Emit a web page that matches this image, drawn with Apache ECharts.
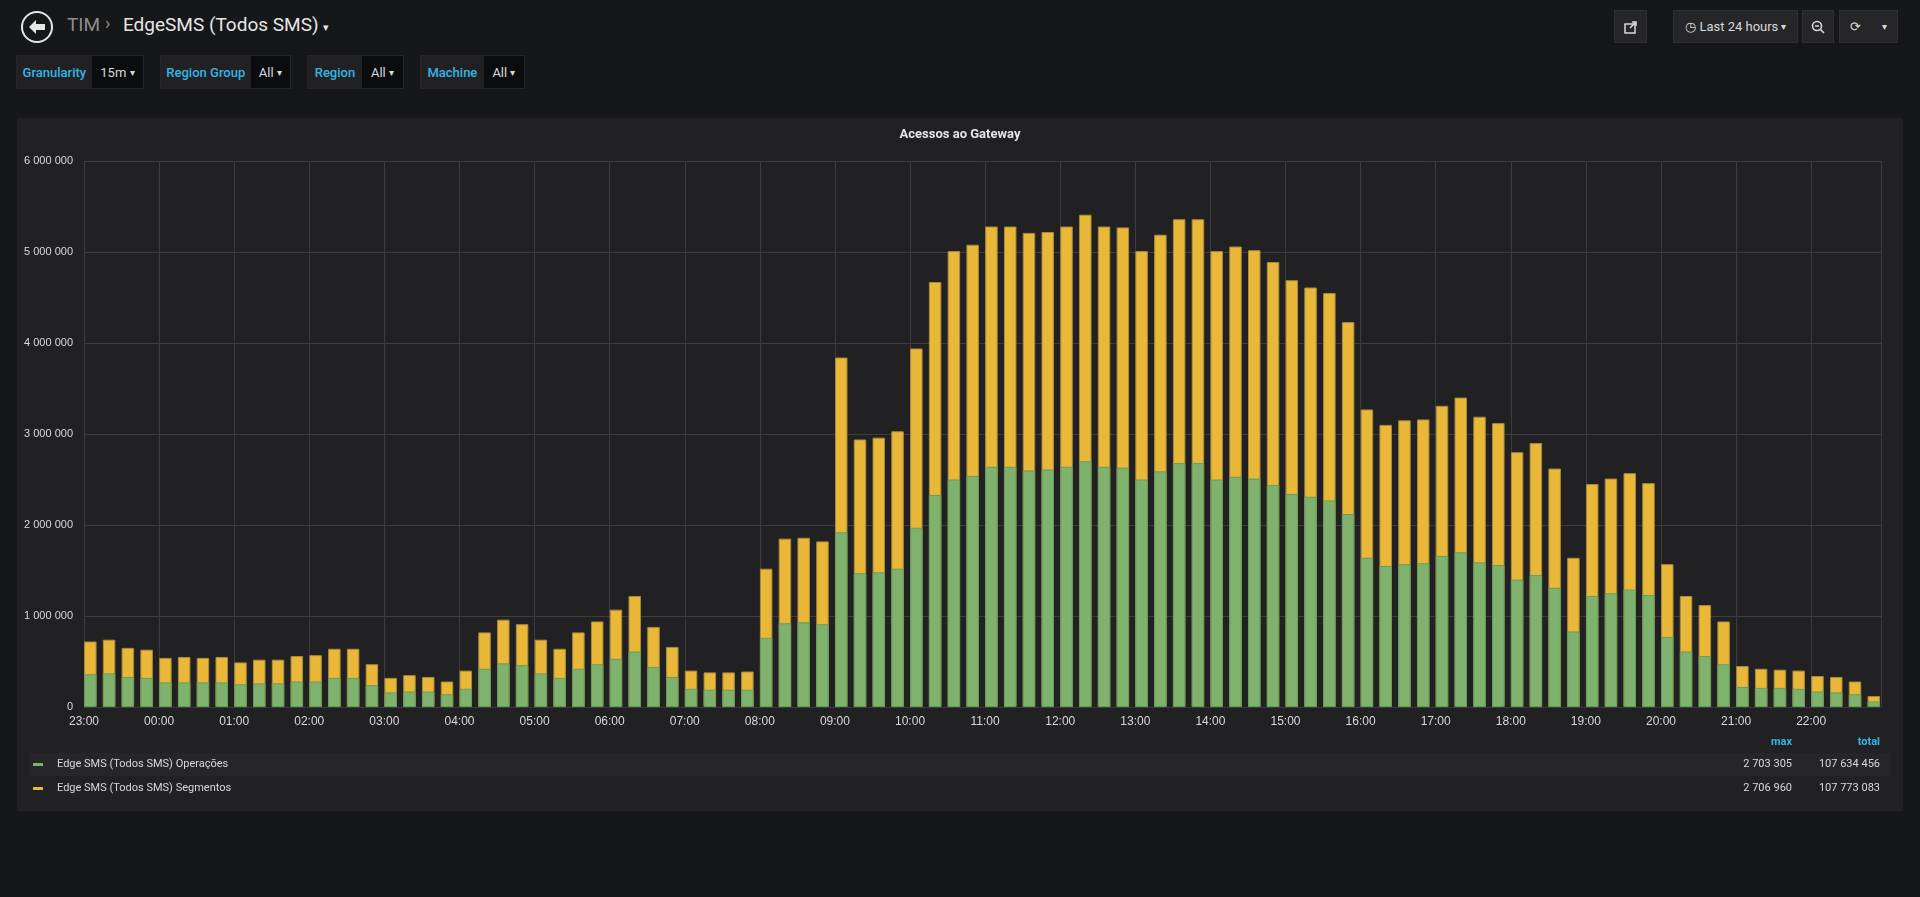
<!DOCTYPE html>
<html><head><meta charset="utf-8">
<script src="https://cdn.jsdelivr.net/npm/echarts@6/dist/echarts.min.js"></script>
<style>
html,body{margin:0;padding:0;width:1920px;height:897px;background:#161719;font-family:Roboto,"Noto Sans",sans-serif;overflow:hidden;position:relative}
.abs{position:absolute}
.btn{position:absolute;top:10px;height:33px;background:#262628;border:1px solid #2f2f32;box-sizing:border-box;color:#d8d9da;font-size:13px;display:flex;align-items:center;justify-content:center}
.var{position:absolute;top:55px;height:34px;display:flex;font-size:13px;border:1px solid #262628;box-sizing:border-box}
.var .l{background:#212124;color:#33b5e5;font-weight:500;display:flex;align-items:center;justify-content:center}
.var .v{background:#0b0c0e;color:#d8d9da;display:flex;align-items:center;justify-content:center}
#panel{position:absolute;left:17px;top:118px;width:1886px;height:693px;background:#212124}
</style></head><body>
<svg class="abs" style="left:20px;top:10px" width="34" height="34" viewBox="0 0 34 34"><circle cx="17" cy="17" r="15" fill="none" stroke="#e6e6e6" stroke-width="2"/><path d="M9 17 L16 10 L16 14 L25 14 L25 20 L16 20 L16 24 Z" fill="#e6e6e6"/></svg>
<div class="abs" style="left:67px;top:13px;font-size:19px;color:#8e8e8e">TIM</div>
<div class="abs" style="left:105px;top:12px;font-size:18px;color:#8e8e8e">›</div>
<div class="abs" style="left:123px;top:13px;font-size:19px;color:#e6e6e6">EdgeSMS (Todos SMS) <span style="font-size:11px">▾</span></div>

<div class="var" style="left:16px;width:128px"><div class="l" style="width:76px">Granularity</div><div class="v" style="width:52px">15m&nbsp;<span style="font-size:10px">▾</span></div></div>
<div class="var" style="left:160px;width:131px"><div class="l" style="width:91px">Region Group</div><div class="v" style="width:40px">All&nbsp;<span style="font-size:10px">▾</span></div></div>
<div class="var" style="left:307px;width:97px"><div class="l" style="width:55px">Region</div><div class="v" style="width:42px">All&nbsp;<span style="font-size:10px">▾</span></div></div>
<div class="var" style="left:420px;width:105px"><div class="l" style="width:64px">Machine</div><div class="v" style="width:41px">All&nbsp;<span style="font-size:10px">▾</span></div></div>

<div class="btn" style="left:1614px;width:33px"><svg width="14" height="14" viewBox="0 0 14 14"><rect x="1" y="4" width="10" height="9" fill="none" stroke="#d8d9da" stroke-width="1.5"/><path d="M6 8 L12 2 M8 2 L12 2 L12 6" stroke="#d8d9da" stroke-width="1.5" fill="none"/></svg></div>
<div class="btn" style="left:1673px;width:125px">◷ Last 24 hours <span style="font-size:10px">&nbsp;▾</span></div>
<div class="btn" style="left:1802px;width:32px"><svg width="14" height="14" viewBox="0 0 14 14"><circle cx="6" cy="6" r="4.5" fill="none" stroke="#d8d9da" stroke-width="1.6"/><path d="M9.5 9.5 L13 13 M4 6 L8 6" stroke="#d8d9da" stroke-width="1.6"/></svg></div>
<div class="btn" style="left:1839px;width:59px;justify-content:space-around"><span>⟳</span><span style="font-size:10px">▾</span></div>

<div id="panel"></div>
<script>
var hourLabels = ['23:00','00:00','01:00','02:00','03:00','04:00','05:00','06:00','07:00','08:00','09:00','10:00','11:00','12:00','13:00','14:00','15:00','16:00','17:00','18:00','19:00','20:00','21:00','22:00'];
// values in millions, 4 per hour starting 23:00
var operacoes = [
.36,.37,.33,.32, .27,.27,.27,.27, .25,.26,.26,.28, .28,.32,.32,.24,
.16,.17,.17,.14, .20,.42,.48,.46, .37,.32,.42,.47, .53,.61,.44,.33,
.20,.19,.19,.19, .76,.92,.93,.91, 1.92,1.47,1.48,1.52, 1.97,2.33,2.50,2.54,
2.64,2.64,2.60,2.61, 2.64,2.70,2.64,2.63, 2.50,2.59,2.68,2.68, 2.50,2.53,2.51,2.44,
2.34,2.31,2.27,2.12, 1.64,1.55,1.57,1.58, 1.66,1.70,1.59,1.56, 1.40,1.45,1.31,.83,
1.22,1.25,1.29,1.23, .77,.61,.56,.47, .22,.21,.21,.20, .17,.16,.14,.06];
// stacked totals (Operações + Segmentos)
var totais = [
.72,.74,.65,.63, .54,.55,.54,.55, .49,.52,.52,.56, .57,.64,.64,.47,
.32,.35,.33,.28, .40,.82,.96,.91, .74,.64,.82,.94, 1.07,1.22,.88,.66,
.40,.38,.38,.39, 1.52,1.85,1.86,1.82, 3.84,2.94,2.96,3.03, 3.94,4.67,5.01,5.08,
5.28,5.28,5.21,5.22, 5.28,5.41,5.28,5.27, 5.01,5.19,5.36,5.36, 5.01,5.06,5.02,4.89,
4.69,4.61,4.55,4.23, 3.27,3.10,3.15,3.16, 3.31,3.40,3.19,3.12, 2.80,2.90,2.62,1.64,
2.45,2.51,2.57,2.46, 1.57,1.22,1.12,.94, .45,.42,.41,.40, .34,.33,.28,.12];
var legendNames = ['Edge SMS (Todos SMS) Operações','Edge SMS (Todos SMS) Segmentos'];
var legendMax = ['2 703 305','2 706 960'];
var legendTotal = ['107 634 456','107 773 083'];

function fmt(v){return String(Math.round(v)).replace(/\B(?=(\d{3})+(?!\d))/g,' ');}
var opData = operacoes.map(function(v,i){return [i*0.25+0.084, v*1e6];});
var totData = totais.map(function(v,i){return [i*0.25+0.084, v*1e6];});

var chart = echarts.init(document.getElementById('panel'));
function txt(s){return {text:s,fill:'#d8d9da',fontSize:11,fontFamily:'Roboto'};}
chart.setOption({
  animation:false,
  backgroundColor:'#212124',
  title:{text:'Acessos ao Gateway',left:'center',top:5,textStyle:{color:'#e6e6e6',fontSize:13,fontWeight:'bold',fontFamily:'Roboto'}},
  grid:{left:67,right:22,top:43,bottom:104},
  xAxis:{type:'value',min:0,max:23.93,interval:1,
    axisLine:{show:false},axisTick:{show:false},
    splitLine:{show:true,lineStyle:{color:'#3d3d40',width:1}},
    axisLabel:{color:'#d8d9da',fontSize:12,margin:9,showMaxLabel:false,formatter:function(v){return hourLabels[Math.round(v)]||'';}}},
  yAxis:{type:'value',min:0,max:6000000,interval:1000000,
    axisLine:{show:false},axisTick:{show:false},
    splitLine:{lineStyle:{color:'#3d3d40',width:1}},
    axisLabel:{color:'#d8d9da',fontSize:11,margin:11,formatter:fmt}},
  series:[
    {name:legendNames[1],type:'bar',data:totData,barWidth:12.5,barGap:'-100%',itemStyle:{color:'#eab839',borderColor:'#a88a3a',borderWidth:1}},
    {name:legendNames[0],type:'bar',data:opData,barWidth:12.5,barGap:'-100%',itemStyle:{color:'#7eb26d',borderColor:'#6a9a5a',borderWidth:1}}
  ],
  graphic:[
    {type:'rect',shape:{x:12,y:635,width:1862,height:23},style:{fill:'#262629'}},
    {type:'rect',shape:{x:16,y:645,width:10,height:3},style:{fill:'#7eb26d'}},
    {type:'rect',shape:{x:16,y:669,width:10,height:3},style:{fill:'#eab839'}},
    {type:'text',left:40,top:641,style:txt(legendNames[0])},
    {type:'text',left:40,top:665,style:txt(legendNames[1])},
    {type:'text',right:111,top:619,style:{text:'max',fill:'#33b5e5',fontSize:11,fontWeight:'bold',fontFamily:'Roboto'}},
    {type:'text',right:23,top:619,style:{text:'total',fill:'#33b5e5',fontSize:11,fontWeight:'bold',fontFamily:'Roboto'}},
    {type:'text',right:111,top:641,style:txt(legendMax[0])},
    {type:'text',right:111,top:665,style:txt(legendMax[1])},
    {type:'text',right:23,top:641,style:txt(legendTotal[0])},
    {type:'text',right:23,top:665,style:txt(legendTotal[1])}
  ]
});
</script>
</body></html>
